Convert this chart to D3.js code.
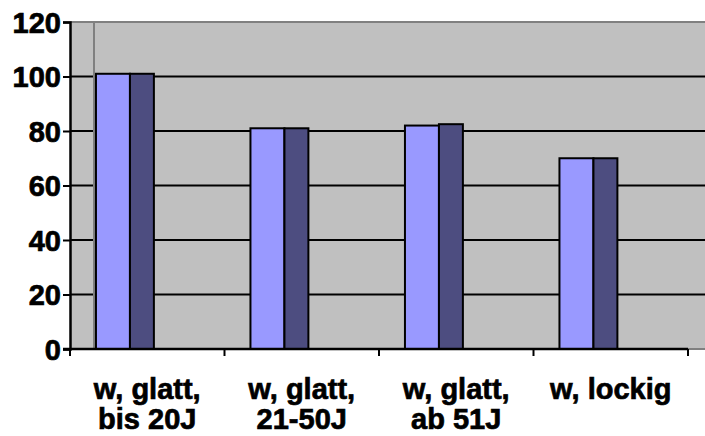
<!DOCTYPE html>
<html>
<head>
<meta charset="utf-8">
<script src="https://cdn.jsdelivr.net/npm/d3@7"></script>
<style>
  body { margin: 0; background: #fff; }
  svg { display: block; }
  text { font-family: Arial, "Liberation Sans", sans-serif; font-weight: bold; stroke: #000; stroke-width: 0.7px; }
</style>
</head>
<body>
<svg id="chart" width="705" height="436"></svg>
<script>
// categories (two text lines each) and the two series
const categories = [['w, glatt,', 'bis 20J'], ['w, glatt,', '21-50J'], ['w, glatt,', 'ab 51J'], ['w, lockig']]
const seriesA = [101, 81, 82, 70]
const seriesB = [101, 81, 82.5, 70]
const yTicks = [0, 20, 40, 60, 80, 100, 120]

const margin = { top: 22, left: 70, bottom: 349, right: 688 }
const svg = d3.select('#chart')

/** Scales */
const x = d3.scaleBand().domain(d3.range(categories.length)).range([margin.left, margin.right])
const y = d3.scaleLinear().domain([0, 120]).range([margin.bottom, margin.top])

// plot area
svg.append('rect')
  .attr('x', margin.left).attr('y', margin.top)
  .attr('width', 705 - margin.left).attr('height', margin.bottom - margin.top)
  .attr('fill', '#c0c0c0')

// gridlines (top one is the grey border)
svg.append('g')
  .selectAll('line')
  .data(yTicks.filter(d => d > 0))
  .join('line')
  .attr('x1', margin.left).attr('x2', 705)
  .attr('y1', d => y(d)).attr('y2', d => y(d))
  .attr('stroke', d => (d === 120 ? '#808080' : '#000'))
  .attr('stroke-width', 2)

// back wall edge
svg.append('line')
  .attr('x1', margin.left + 24).attr('x2', margin.left + 24)
  .attr('y1', margin.top).attr('y2', margin.bottom)
  .attr('stroke', '#808080').attr('stroke-width', 2)

// bottom border beyond the axis
svg.append('line')
  .attr('x1', margin.right).attr('x2', 705)
  .attr('y1', margin.bottom).attr('y2', margin.bottom)
  .attr('stroke', '#808080').attr('stroke-width', 2)

/** Bars */
const bw = x.bandwidth()
const bars = [
  { values: seriesA, fill: '#9999ff', off: 0.168, w: 0.22 },
  { values: seriesB, fill: '#4d4d80', off: 0.388, w: 0.155 }
]
bars.forEach(s => {
  svg.append('g')
    .selectAll('rect')
    .data(s.values)
    .join('rect')
    .attr('x', (d, i) => x(i) + bw * s.off)
    .attr('y', d => y(d))
    .attr('width', bw * s.w)
    .attr('height', d => y(0) - y(d))
    .attr('fill', s.fill)
    .attr('stroke', '#000')
    .attr('stroke-width', 2)
})

/** Axes */
const yAxis = d3.axisLeft(y).tickValues(yTicks).tickSize(7).tickPadding(2)
const gy = svg.append('g')
  .attr('transform', `translate(${margin.left},0)`)
  .call(yAxis)
gy.select('.domain').attr('stroke-width', 2.5)
gy.selectAll('.tick line').attr('stroke-width', 2)
gy.selectAll('.tick text')
  .style('font-size', '29px')
  .style('font-weight', 'bold')
  .style('font-family', 'Arial, "Liberation Sans", sans-serif')
  .attr('fill', '#000').attr('dy', '0.36em')

const xTickPos = d3.range(categories.length + 1).map(i => margin.left + i * bw)
svg.append('line')
  .attr('x1', margin.left - 7).attr('x2', margin.right)
  .attr('y1', margin.bottom).attr('y2', margin.bottom)
  .attr('stroke', '#000').attr('stroke-width', 2.5)
svg.append('g')
  .selectAll('line')
  .data(xTickPos)
  .join('line')
  .attr('x1', d => d).attr('x2', d => d)
  .attr('y1', margin.bottom).attr('y2', margin.bottom + 7)
  .attr('stroke', '#000').attr('stroke-width', 2)

const labels = svg.append('g')
  .selectAll('text')
  .data(categories)
  .join('text')
  .attr('x', (d, i) => x(i) + bw / 2)
  .attr('y', 399)
  .attr('text-anchor', 'middle')
  .style('font-size', '29px')
labels.selectAll('tspan')
  .data(d => d)
  .join('tspan')
  .attr('x', function () { return this.parentNode.getAttribute('x') })
  .attr('dy', (d, i) => (i === 0 ? 0 : 30))
  .text(d => d)
</script>
</body>
</html>
